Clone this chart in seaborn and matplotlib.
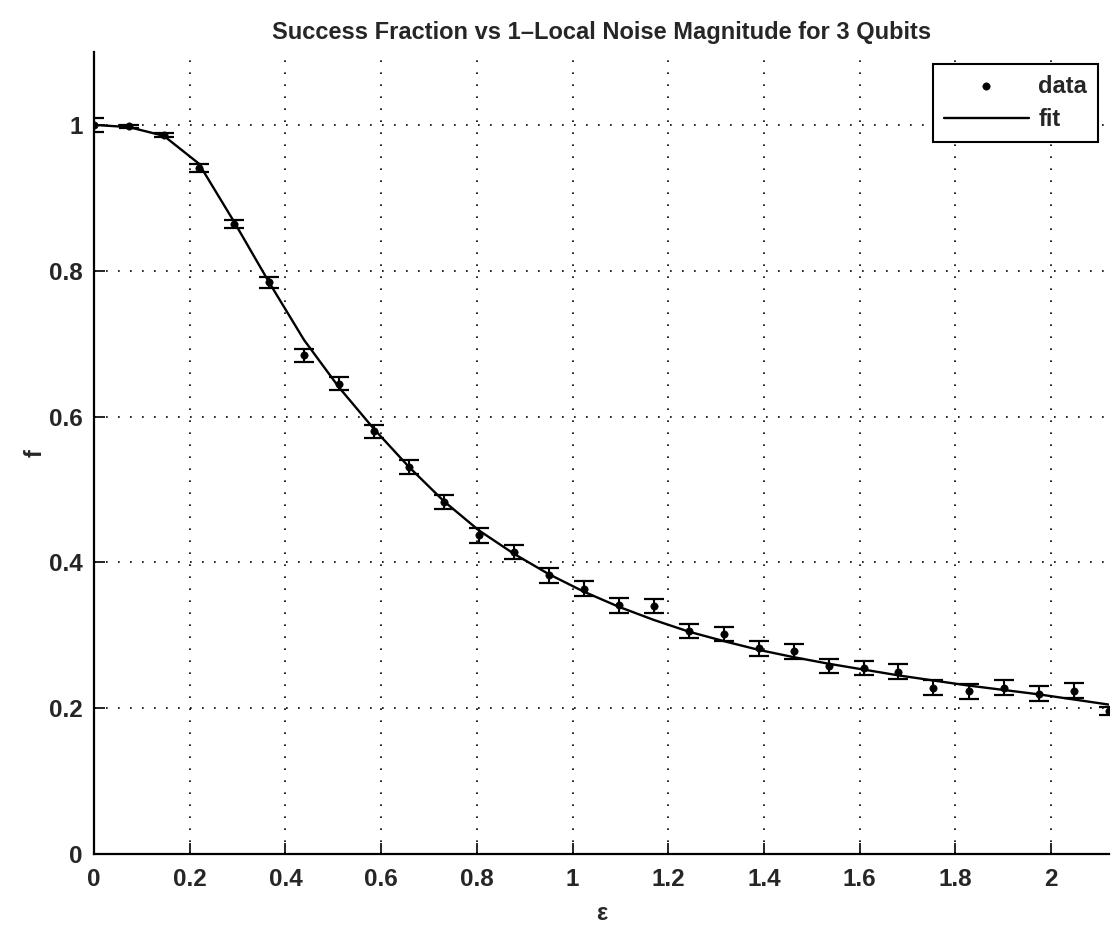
import numpy as np
import matplotlib
matplotlib.use('Agg')
import matplotlib.pyplot as plt
import seaborn as sns

# noise magnitude (epsilon) values
eps = [0.000, 0.073, 0.146, 0.219, 0.292, 0.366, 0.439, 0.512, 0.585, 0.658,
       0.731, 0.804, 0.877, 0.950, 1.023, 1.097, 1.170, 1.243, 1.316, 1.389,
       1.462, 1.535, 1.608, 1.681, 1.754, 1.828, 1.901, 1.974, 2.047, 2.120]

# measured success fraction
frac = [1.000, 0.998, 0.986, 0.941, 0.864, 0.784, 0.684, 0.645, 0.580, 0.531,
        0.483, 0.437, 0.414, 0.382, 0.364, 0.341, 0.340, 0.306, 0.302, 0.282,
        0.278, 0.258, 0.255, 0.250, 0.228, 0.223, 0.228, 0.220, 0.224, 0.196]

# error bar half widths
err = [0.010, 0.002, 0.003, 0.005, 0.006, 0.008, 0.009, 0.009, 0.009, 0.0095,
       0.010, 0.010, 0.010, 0.010, 0.010, 0.010, 0.010, 0.010, 0.010, 0.010,
       0.010, 0.010, 0.010, 0.010, 0.010, 0.010, 0.010, 0.010, 0.010, 0.005]

# fitted curve evaluated at the same eps
fit = [1.000, 0.997, 0.985, 0.947, 0.868, 0.784, 0.705, 0.640, 0.583, 0.531,
       0.484, 0.444, 0.412, 0.384, 0.360, 0.339, 0.321, 0.305, 0.292, 0.280,
       0.270, 0.261, 0.253, 0.245, 0.238, 0.231, 0.225, 0.219, 0.212, 0.205]

xticks = [0, 0.2, 0.4, 0.6, 0.8, 1, 1.2, 1.4, 1.6, 1.8, 2]
xticklabels = ['0', '0.2', '0.4', '0.6', '0.8', '1', '1.2', '1.4', '1.6', '1.8', '2']
yticks = [0, 0.2, 0.4, 0.6, 0.8, 1]
yticklabels = ['0', '0.2', '0.4', '0.6', '0.8', '1']

sns.set_style('white')
plt.rcParams['font.family'] = ['Liberation Sans', 'DejaVu Sans']

fig = plt.figure(figsize=(11.2, 9.3), dpi=100)
ax = fig.add_axes([0.0839, 0.0817, 0.9063, 0.8624])

ax.errorbar(eps, frac, yerr=err, fmt='none', ecolor='k', elinewidth=1.5,
            capsize=7.5, capthick=1.6, zorder=3)
sns.scatterplot(x=eps, y=frac, color='k', s=28, marker='o', edgecolor='k',
                label='data', ax=ax, zorder=4)
sns.lineplot(x=eps, y=fit, color='k', linewidth=1.7, label='fit', ax=ax, zorder=2)

ax.set_xlim(0, 2.121)
ax.set_ylim(0, 1.1)
ax.set_xticks(xticks)
ax.set_xticklabels(xticklabels)
ax.set_yticks(yticks)
ax.set_yticklabels(yticklabels)

ax.grid(True, color='k', linestyle=(0, (1, 6.2)), linewidth=1.2)
ax.set_axisbelow(True)
for s in ['top', 'right']:
    ax.spines[s].set_visible(False)
for s in ['left', 'bottom']:
    ax.spines[s].set_color('k')
    ax.spines[s].set_linewidth(1.6)

ax.tick_params(axis='both', direction='in', length=8, width=1.2, color='k',
               labelsize=17.5, bottom=True, left=True)
ax.tick_params(axis='x', pad=10)
ax.tick_params(axis='y', pad=8)
for lab in ax.get_xticklabels() + ax.get_yticklabels():
    lab.set_fontweight('bold')

ax.set_title('Success Fraction vs 1\u2013Local Noise Magnitude for 3 Qubits',
             fontsize=17, fontweight='bold', pad=9)
ax.set_xlabel('\u03b5', fontsize=17, fontweight='bold', labelpad=8)
ax.set_ylabel('f', fontsize=17, fontweight='bold', labelpad=2)

leg = ax.legend(loc='upper right', bbox_to_anchor=(0.989, 0.985), fontsize=17,
                frameon=True, fancybox=False, framealpha=1, edgecolor='k',
                handlelength=3.6, handletextpad=0.4, labelspacing=0.45,
                borderpad=0.45, borderaxespad=0, markerscale=1.0)
leg.get_frame().set_linewidth(1.5)
for t in leg.get_texts():
    t.set_fontweight('bold')

fig.savefig('out.png', dpi=100)
